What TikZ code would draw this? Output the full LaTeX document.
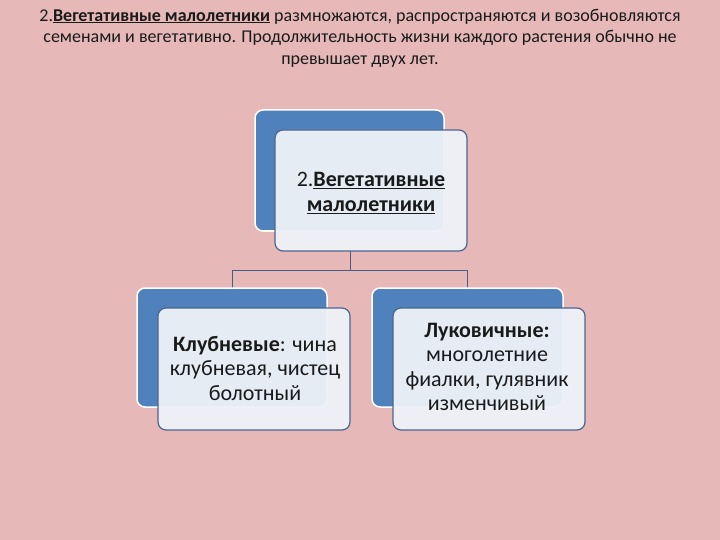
\documentclass[tikz,border=0pt]{standalone}
\usepackage{fontspec}
\setmainfont{Carlito}
\usetikzlibrary{calc}
\definecolor{bg}{HTML}{E6B9B8}
\definecolor{bluef}{HTML}{4F81BD}
\definecolor{whitef}{HTML}{EEF2F8}
\definecolor{edgeb}{HTML}{4A6590}
\definecolor{linec}{HTML}{4A5E80}
\definecolor{txt}{HTML}{1A1A1A}
\tikzset{
  backbox/.style={draw=white, line width=1.5pt, fill=bluef, rounded corners=8pt},
  frontbox/.style={draw=edgeb, line width=1.2pt, fill=whitef, fill opacity=0.95, rounded corners=8pt},
  boxtext/.style={text=txt, align=center, font=\fontsize{22}{24.5}\selectfont, text opacity=1},
  conn/.style={draw=linec, line width=1pt},
}
\begin{document}
\begin{tikzpicture}[x=1pt,y=-1pt]
\fill[bg] (0,0) rectangle (720,540);
\useasboundingbox (0,0) rectangle (720,540);
\node[text=txt, align=center, font=\fontsize{18}{21.5}\selectfont] (title) at (360,38)
 {2.\textbf{\underline{Вегетативные малолетники}} размножаются, распространяются и возобновляются\\
  семенами и вегетативно. Продолжительность жизни каждого растения обычно не\\
  превышает двух лет.};
% top
\draw[backbox] (255,110) rectangle (444,231);
\draw[frontbox] (275,130) rectangle (467,251);
\node[boxtext] (top) at (371,193) {2.\textbf{\underline{Вегетативные}}\\\textbf{\underline{малолетники}}};
\coordinate (topb) at (350,251);
\coordinate (junc) at (350,270);
\coordinate (lj) at (232,270);
\coordinate (rj) at (467,270);
\coordinate (lt) at (232,288);
\coordinate (rt) at (467,288);
\draw[conn] (topb) -- (junc);
\draw[conn] (lj) -- (rj);
\draw[conn] (lj) -- (lt);
\draw[conn] (rj) -- (rt);
% left
\draw[backbox] (137,288) rectangle (327,407);
\draw[frontbox] (158,308) rectangle (350,430);
\node[boxtext] (left) at (255,368) {\textbf{Клубневые}: чина\\клубневая, чистец\\болотный};
% right
\draw[backbox] (372,288) rectangle (563,407);
\draw[frontbox] (393,308) rectangle (585,430);
\node[boxtext] (right) at (487,367) {\textbf{Луковичные:}\\многолетние\\фиалки, гулявник\\изменчивый};
\end{tikzpicture}
\end{document}
